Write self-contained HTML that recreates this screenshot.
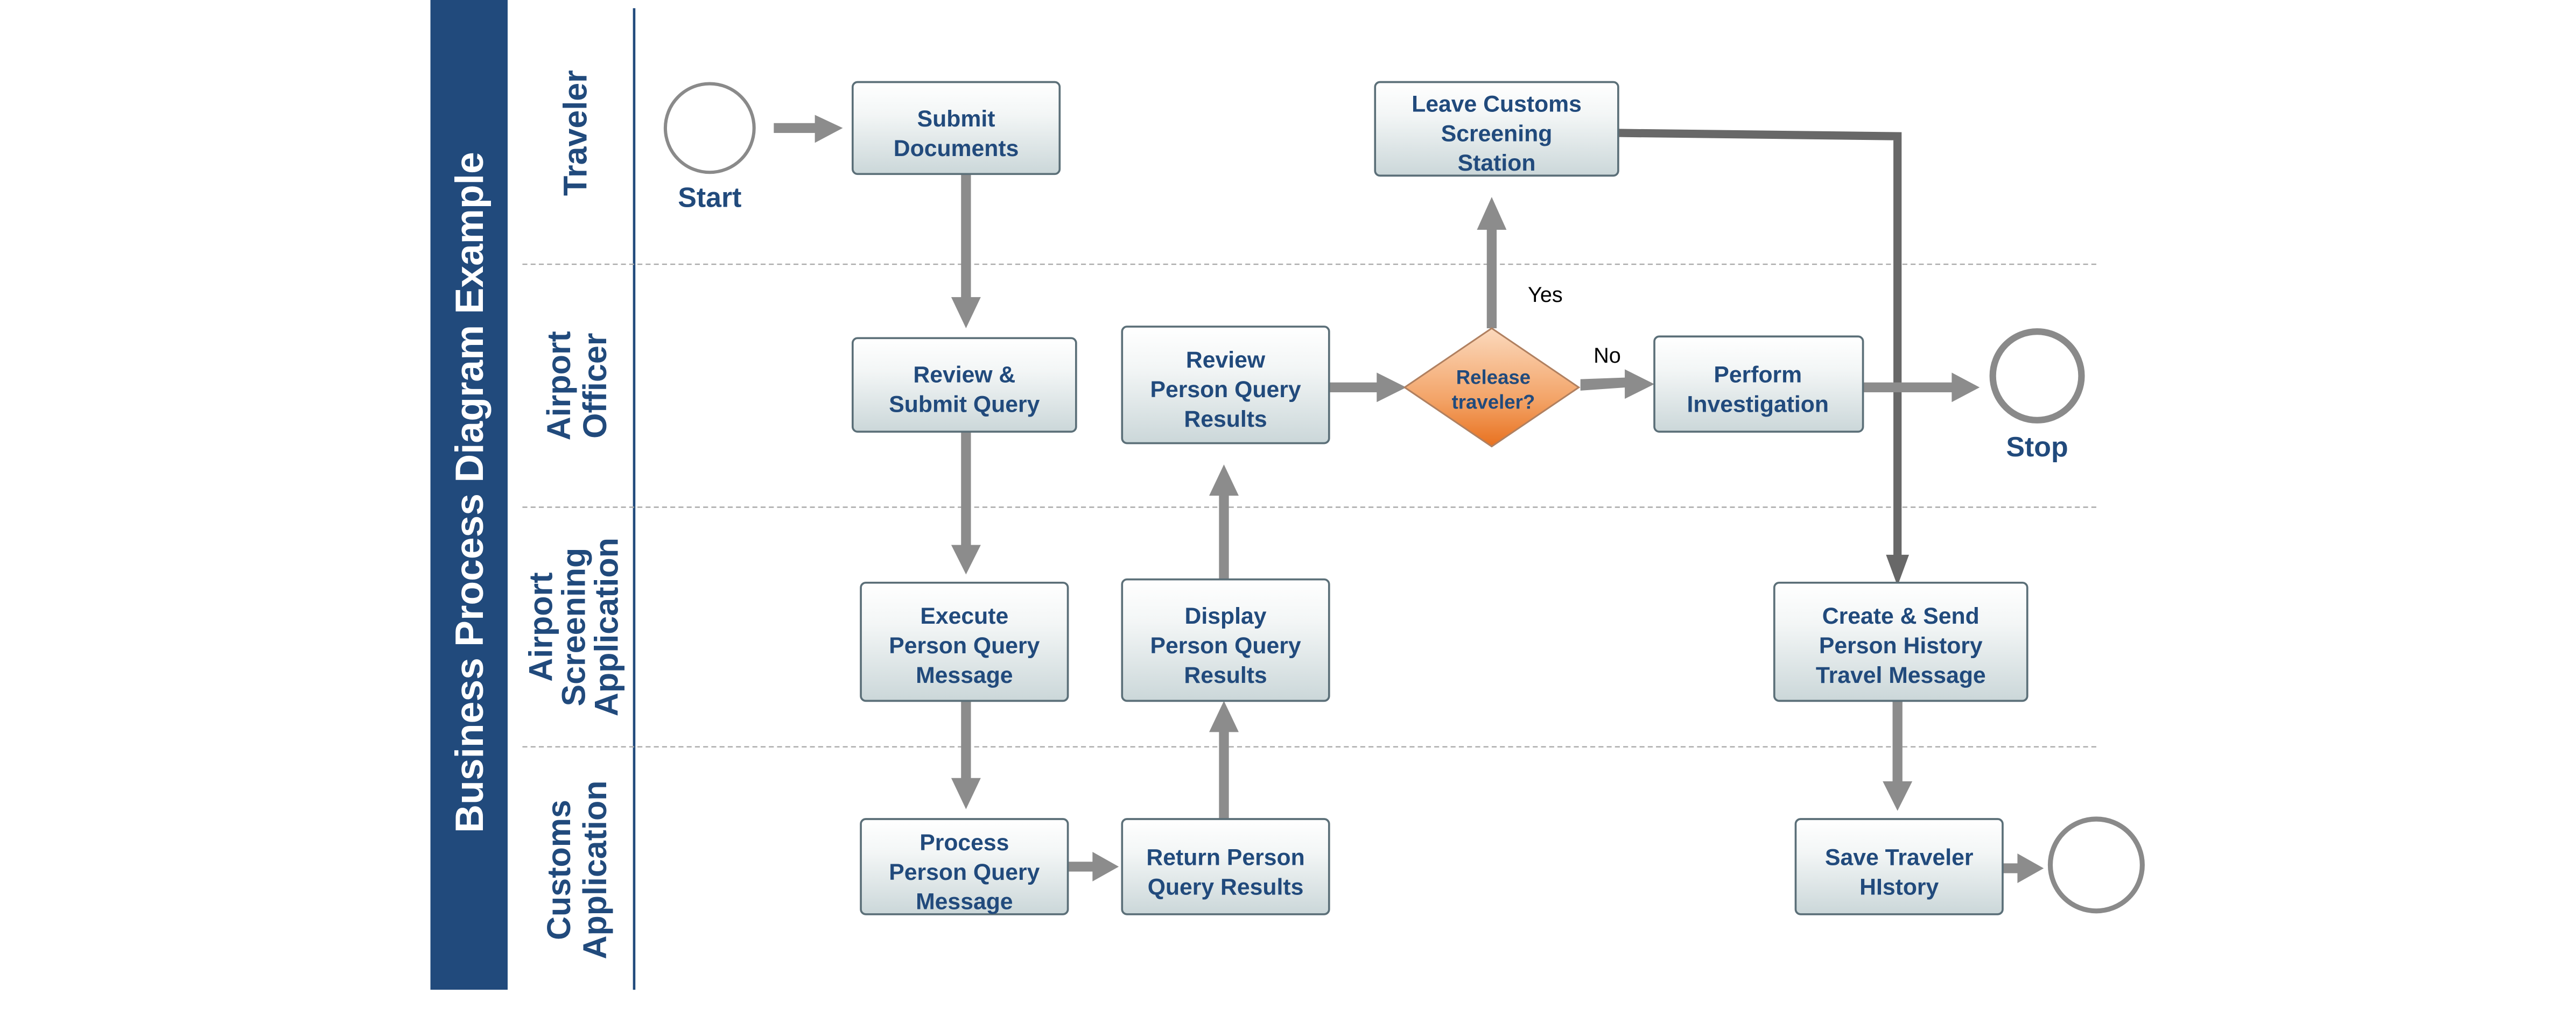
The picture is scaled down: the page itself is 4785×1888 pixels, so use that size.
<!DOCTYPE html>
<html><head><meta charset="utf-8"><style>
html,body{margin:0;padding:0;background:#fff;}
svg{display:block;}
text{font-family:"Liberation Sans",sans-serif;}
</style></head><body>
<svg width="4785" height="1888" viewBox="0 0 1568 619" preserveAspectRatio="none" xmlns="http://www.w3.org/2000/svg">
<defs>
<linearGradient id="bx" x1="0" y1="0" x2="0" y2="1">
<stop offset="0" stop-color="#ffffff"/><stop offset="0.35" stop-color="#f3f6f6"/><stop offset="1" stop-color="#cbd7d9"/>
</linearGradient>
<linearGradient id="dm" x1="0" y1="0" x2="0" y2="1">
<stop offset="0" stop-color="#fbd9bd"/><stop offset="0.6" stop-color="#f3a468"/><stop offset="1" stop-color="#e8711f"/>
</linearGradient>
</defs>
<rect x="262" y="0" width="47" height="603" fill="#214a7c"/>
<text transform="translate(294,300) rotate(-90)" text-anchor="middle" font-size="24" font-weight="bold" fill="#fff">Business Process Diagram Example</text>
<line x1="386" y1="5" x2="386" y2="603" stroke="#214a7c" stroke-width="1.5"/>
<g stroke="#aaa" stroke-width="0.8" stroke-dasharray="3,2">
<line x1="318" y1="161" x2="1278" y2="161"/><line x1="318" y1="309" x2="1278" y2="309"/><line x1="318" y1="455" x2="1278" y2="455"/>
</g>
<g font-size="20" font-weight="bold" fill="#214a7c" text-anchor="middle">
<text transform="translate(357,81) rotate(-90)">Traveler</text>
<text transform="translate(347,235) rotate(-90)">Airport</text>
<text transform="translate(369,235) rotate(-90)">Officer</text>
<text transform="translate(336,382) rotate(-90)">Airport</text>
<text transform="translate(356,382) rotate(-90)">Screening</text>
<text transform="translate(376,382) rotate(-90)">Application</text>
<text transform="translate(347,530) rotate(-90)">Customs</text>
<text transform="translate(369,530) rotate(-90)">Application</text>
</g>
<g fill="#fff" stroke="#8a8a8a">
<circle cx="432" cy="78" r="27" stroke-width="2"/>
<circle cx="1240" cy="229" r="27" stroke-width="4"/>
<circle cx="1276" cy="527" r="28" stroke-width="3"/>
</g>
<g font-size="17" font-weight="bold" fill="#214a7c" text-anchor="middle">
<text x="432" y="126">Start</text><text x="1240" y="278">Stop</text>
</g>
<polyline points="985,81 1155,83 1155,340" fill="none" stroke="#686868" stroke-width="5"/>
<polygon points="1148,338 1162,338 1155,357" fill="#686868"/>
<g fill="#8c8c8c" stroke="none">
<rect x="471" y="75" width="26" height="6"/><polygon points="496,70 496,87 513,78"/>
<rect x="585" y="106" width="6" height="76"/><polygon points="579,181 597,181 588,200"/>
<rect x="585" y="263" width="6" height="70"/><polygon points="579,332 597,332 588,350"/>
<rect x="585" y="427" width="6" height="48"/><polygon points="579,474 597,474 588,493"/>
<rect x="650" y="525" width="16" height="6"/><polygon points="665,519 665,537 681,528"/>
<rect x="742" y="444" width="6" height="55"/><polygon points="736,446 754,446 745,427"/>
<rect x="742" y="300" width="6" height="53"/><polygon points="736,302 754,302 745,283"/>
<rect x="809" y="233" width="30" height="6"/><polygon points="838,227 838,245 856,236"/>
<rect x="905" y="138" width="6" height="62"/><polygon points="899,140 917,140 908,120"/>
<polygon points="962,231 990,230 990,236 962,238"/><polygon points="989,225 989,243 1007,234"/>
<rect x="1134" y="233" width="55" height="6"/><polygon points="1188,227 1188,245 1205,236"/>
<rect x="1152" y="427" width="6" height="50"/><polygon points="1146,476 1164,476 1155,494"/>
<rect x="1219" y="526" width="10" height="6"/><polygon points="1228,520 1228,538 1244,529"/>
</g>
<g fill="url(#bx)" stroke="#5b6f78" stroke-width="1.2">
<rect x="519" y="50" width="126" height="56" rx="3"/>
<rect x="519" y="206" width="136" height="57" rx="3"/>
<rect x="524" y="355" width="126" height="72" rx="3"/>
<rect x="524" y="499" width="126" height="58" rx="3"/>
<rect x="683" y="499" width="126" height="58" rx="3"/>
<rect x="683" y="353" width="126" height="74" rx="3"/>
<rect x="683" y="199" width="126" height="71" rx="3"/>
<rect x="837" y="50" width="148" height="57" rx="3"/>
<rect x="1007" y="205" width="127" height="58" rx="3"/>
<rect x="1080" y="355" width="154" height="72" rx="3"/>
<rect x="1093" y="499" width="126" height="58" rx="3"/>
</g>
<polygon points="908,200 961,236 908,272 855,236" fill="url(#dm)" stroke="#b08060" stroke-width="1"/>
<g font-size="14" font-weight="bold" fill="#214a7c" text-anchor="middle">
<text x="582" y="77">Submit</text><text x="582" y="95">Documents</text>
<text x="587" y="233">Review &amp;</text><text x="587" y="251">Submit Query</text>
<text x="587" y="380">Execute</text><text x="587" y="398">Person Query</text><text x="587" y="416">Message</text>
<text x="587" y="518">Process</text><text x="587" y="536">Person Query</text><text x="587" y="554">Message</text>
<text x="746" y="527">Return Person</text><text x="746" y="545">Query Results</text>
<text x="746" y="380">Display</text><text x="746" y="398">Person Query</text><text x="746" y="416">Results</text>
<text x="746" y="224">Review</text><text x="746" y="242">Person Query</text><text x="746" y="260">Results</text>
<text x="911" y="68">Leave Customs</text><text x="911" y="86">Screening</text><text x="911" y="104">Station</text>
<text x="1070" y="233">Perform</text><text x="1070" y="251">Investigation</text>
<text x="1157" y="380">Create &amp; Send</text><text x="1157" y="398">Person History</text><text x="1157" y="416">Travel Message</text>
<text x="1156" y="527">Save Traveler</text><text x="1156" y="545">HIstory</text>
</g>
<g font-size="12" font-weight="bold" fill="#214a7c" text-anchor="middle">
<text x="909" y="234">Release</text><text x="909" y="249">traveler?</text>
</g>
<g font-size="13" fill="#000">
<text x="930" y="184">Yes</text><text x="970" y="221">No</text>
</g>
</svg>
</body></html>
